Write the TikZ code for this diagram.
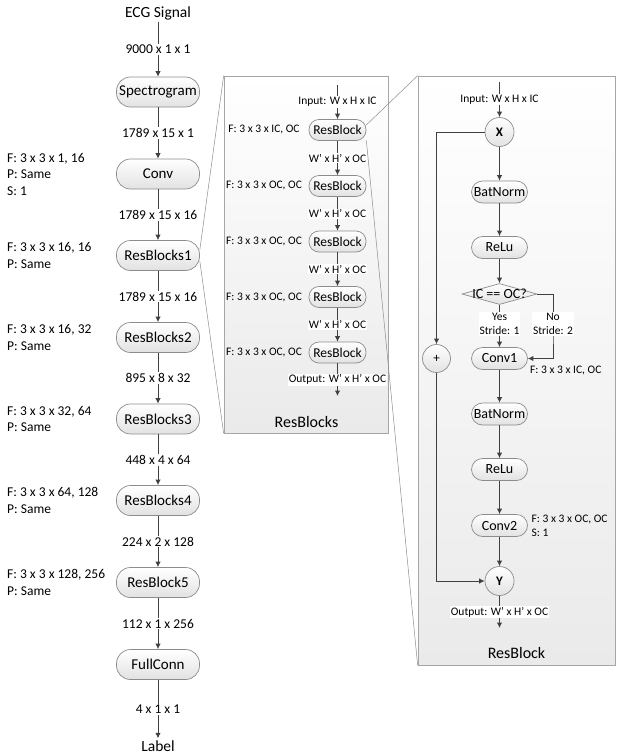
\documentclass[tikz,border=0pt]{standalone}
\usepackage{fontspec}
\setmainfont{Carlito}
\usetikzlibrary{arrows.meta,shapes.geometric,calc,shadows}
\definecolor{lineC}{HTML}{404040}
\definecolor{borderC}{HTML}{8C8C8C}
\definecolor{shadeC}{HTML}{E2E2E2}
\definecolor{panelB}{HTML}{EAEAEA}
\begin{document}
\begin{tikzpicture}[x=1pt,y=-1pt,
  conn/.style={draw=lineC, line width=1pt, -{Latex[length=5.5pt,width=5.5pt]}},
  bignode/.style={draw=borderC, line width=0.7pt, rounded corners=14pt, top color=white, bottom color=shadeC, minimum width=83pt, minimum height=30pt, inner sep=1pt, font=\fontsize{15}{17}\selectfont},
  smallnode/.style={draw=borderC, line width=0.7pt, rounded corners=10pt, top color=white, bottom color=shadeC, minimum width=57pt, minimum height=21pt, inner xsep=1.5pt, inner ysep=0pt, font=\fontsize{13.5}{15}\selectfont},
  rnode/.style={smallnode, minimum width=56pt, minimum height=22pt, rounded corners=11pt, font=\fontsize{14}{16}\selectfont},
  opcirc/.style={circle, draw=borderC, line width=0.7pt, top color=white, bottom color=shadeC, minimum size=29pt, inner sep=0pt, font=\bfseries\fontsize{13}{15}\selectfont},
  clbl/.style={fill=white, inner sep=1.2pt, font=\fontsize{13.5}{15}\selectfont},
  slbl/.style={fill=white, inner sep=1pt, font=\fontsize{11.5}{13.7}\selectfont},
  ann/.style={align=left, inner sep=0pt, font=\fontsize{13.5}{16.5}\selectfont},
  sann/.style={align=left, inner sep=0pt, font=\fontsize{11.5}{14}\selectfont},
  panel/.style={draw=black!35, line width=0.7pt, top color=white, bottom color=panelB, inner sep=0pt, drop shadow={shadow xshift=1.2pt, shadow yshift=-1.2pt, opacity=0.25}},
  zoomline/.style={draw=black!45, line width=0.5pt},
  title/.style={font=\fontsize{16}{18}\selectfont, inner sep=1pt},
  term/.style={font=\fontsize{15.5}{17}\selectfont, inner sep=2pt}
]
\useasboundingbox (0,0) rectangle (623,755);

% ---------- panels ----------
\node[panel, minimum width=164pt, minimum height=357pt] (pm) at (306,254.5) {};
\node[panel, minimum width=197pt, minimum height=589pt] (pr) at (516.5,370.5) {};

% ---------- left column ----------
\node[term] (ecg) at (158,13) {ECG Signal};
\node[bignode] (spec) at (158,92) {Spectrogram};
\node[bignode] (conv) at (158,174) {Conv};
\node[bignode] (rb1) at (158,255.5) {ResBlocks1};
\node[bignode] (rb2) at (158,337.5) {ResBlocks2};
\node[bignode] (rb3) at (158,419) {ResBlocks3};
\node[bignode] (rb4) at (158,500.5) {ResBlocks4};
\node[bignode] (rb5) at (158,582.5) {ResBlock5};
\node[bignode] (fc) at (158,664.5) {FullConn};
\node[term] (lab) at (158,746) {Label};

\draw[conn] (ecg) -- node[clbl]{9000 x 1 x 1} (spec);
\draw[conn] (spec) -- node[clbl]{1789 x 15 x 1} (conv);
\draw[conn] (conv) -- node[clbl]{1789 x 15 x 16} (rb1);
\draw[conn] (rb1) -- node[clbl]{1789 x 15 x 16} (rb2);
\draw[conn] (rb2) -- node[clbl]{895 x 8 x 32} (rb3);
\draw[conn] (rb3) -- node[clbl]{448 x 4 x 64} (rb4);
\draw[conn] (rb4) -- node[clbl]{224 x 2 x 128} (rb5);
\draw[conn] (rb5) -- node[clbl]{112 x 1 x 256} (fc);
\draw[conn] (fc) -- node[clbl]{4 x 1 x 1} (lab);

\node[ann, anchor=west] (a1) at (7,174) {F: 3 x 3 x 1, 16\\P: Same\\S: 1};
\node[ann, anchor=west] (a2) at (7,255.5) {F: 3 x 3 x 16, 16\\P: Same};
\node[ann, anchor=west] (a3) at (7,337.5) {F: 3 x 3 x 16, 32\\P: Same};
\node[ann, anchor=west] (a4) at (7,419) {F: 3 x 3 x 32, 64\\P: Same};
\node[ann, anchor=west] (a5) at (7,500.5) {F: 3 x 3 x 64, 128\\P: Same};
\node[ann, anchor=west] (a6) at (7,582.5) {F: 3 x 3 x 128, 256\\P: Same};

% ---------- middle panel ----------
\coordinate (min) at (337.5,85);
\node[smallnode] (m1) at (337.5,130) {ResBlock};
\node[smallnode] (m2) at (337.5,186) {ResBlock};
\node[smallnode] (m3) at (337.5,241.5) {ResBlock};
\node[smallnode] (m4) at (337.5,297) {ResBlock};
\node[smallnode] (m5) at (337.5,352.5) {ResBlock};
\coordinate (mout) at (337.5,396);

\draw[conn] (min) -- node[slbl]{Input: W x H x IC} (m1);
\draw[conn] (m1) -- node[slbl]{W’ x H’ x OC} (m2);
\draw[conn] (m2) -- node[slbl]{W’ x H’ x OC} (m3);
\draw[conn] (m3) -- node[slbl]{W’ x H’ x OC} (m4);
\draw[conn] (m4) -- node[slbl]{W’ x H’ x OC} (m5);
\draw[conn] (m5) -- node[slbl]{Output: W’ x H’ x OC} (mout);

\node[sann] (f1) at (264,130) {F: 3 x 3 x IC, OC};
\node[sann] (f2) at (264,186) {F: 3 x 3 x OC, OC};
\node[sann] (f3) at (264,241.5) {F: 3 x 3 x OC, OC};
\node[sann] (f4) at (264,297) {F: 3 x 3 x OC, OC};
\node[sann] (f5) at (264,352.5) {F: 3 x 3 x OC, OC};
\node[title] (tm) at (306.5,422) {ResBlocks};

% ---------- right panel ----------
\coordinate (rin) at (499.5,82);
\node[opcirc] (X) at (499.5,132) {X};
\node[rnode] (bn1) at (499.5,192) {BatNorm};
\node[rnode] (re1) at (499.5,247.5) {ReLu};
\node[diamond, draw=borderC, line width=0.7pt, top color=white, bottom color=shadeC, minimum width=75pt, minimum height=21pt, inner sep=0pt] (dec) at (499.5,294) {};
\node[font=\fontsize{14}{16}\selectfont, inner sep=0pt] (dect) at (dec) {IC == OC?};
\node[rnode] (c1) at (499.5,358.5) {Conv1};
\node[opcirc, minimum size=28pt, font=\fontsize{13}{15}\selectfont] (plus) at (436.5,358.5) {+};
\node[rnode] (bn2) at (499.5,414) {BatNorm};
\node[rnode] (re2) at (499.5,469.5) {ReLu};
\node[rnode] (c2) at (499.5,525.5) {Conv2};
\node[opcirc] (Y) at (499.5,581) {Y};
\coordinate (rout) at (499.5,628);
\coordinate (nob) at (553,330);

\draw[conn] (rin) -- node[slbl]{Input: W x H x IC} (X);
\draw[conn] (X) -- (bn1);
\draw[conn] (bn1) -- (re1);
\draw[conn] (re1) -- (dec);
\draw[conn] (dec) -- (c1);
\draw[conn] (dec.east) -| (nob) |- (c1.east);
\draw[conn] (c1) -- (bn2);
\draw[conn] (bn2) -- (re2);
\draw[conn] (re2) -- (c2);
\draw[conn] (c2) -- (Y);
\draw[conn] (Y) -- node[slbl]{Output: W’ x H’ x OC} (rout);
\draw[conn] (X.west) -| (plus.north);
\draw[conn] (plus.south) |- (Y.west);

\node[slbl, align=center] (yeslbl) at (499.5,324) {Yes\\Stride: 1};
\node[slbl, align=center] (nolbl) at (553,324) {No\\Stride: 2};
\node[sann, anchor=west] (fc1) at (530,370) {F: 3 x 3 x IC, OC};
\node[sann, anchor=west] (fc2) at (531.5,525.5) {F: 3 x 3 x OC, OC\\S: 1};
\node[title] (tr) at (516.5,653) {ResBlock};

% ---------- zoom lines ----------
\draw[zoomline] (rb1.8) -- (pm.north west);
\draw[zoomline] (rb1.-8) -- (pm.south west);
\draw[zoomline] (m1.10) -- (pr.north west);
\draw[zoomline] (m1.-20) -- (pr.south west);
\end{tikzpicture}
\end{document}
